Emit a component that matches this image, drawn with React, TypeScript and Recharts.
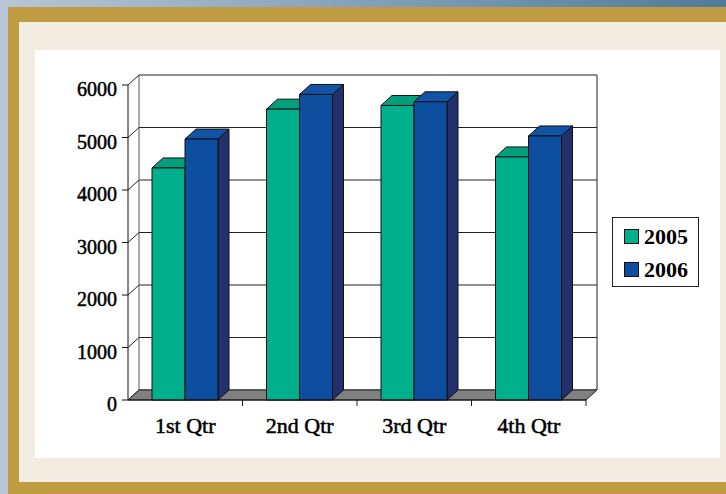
import { Bar, BarChart, CartesianGrid, Legend, ReferenceArea, XAxis, YAxis } from "recharts";

const quarters = ["1st Qtr", "2nd Qtr", "3rd Qtr", "4th Qtr"];
const sales2005 = [4420, 5540, 5610, 4630];
const sales2006 = [4970, 5820, 5680, 5030];
const yTicks = [0, 1000, 2000, 3000, 4000, 5000, 6000];

const data = quarters.map((q, i) => ({ name: q, y2005: sales2005[i], y2006: sales2006[i] }));

// depth of the fake 3d look
const DX = 11;
const DY = -10;
const FONT = '"Liberation Serif", "Times New Roman", serif';

function bar3d(front: string, top: string, side: string) {
	return (props: any) => {
		const { x, y, width: w, height: h } = props;
		if (!h) return null;
		return (
			<g stroke="#111" strokeWidth={1} strokeLinejoin="round">
				<polygon points={`${x + w},${y} ${x + w + DX},${y + DY} ${x + w + DX},${y + h + DY} ${x + w},${y + h}`} fill={side} />
				<polygon points={`${x},${y} ${x + DX},${y + DY} ${x + w + DX},${y + DY} ${x + w},${y}`} fill={top} />
				<rect x={x} y={y} width={w} height={h} fill={front} />
			</g>
		);
	};
}

// back wall edges, floor and the category ticks
const Walls = (props: any) => {
	const { x, y, width: w, height: h } = props;
	const b = y + h;
	const n = quarters.length;
	return (
		<g>
			<line x1={x + DX} y1={y + DY} x2={x + DX} y2={b + DY} stroke="#555" />
			<line x1={x + w + DX} y1={y + DY} x2={x + w + DX} y2={b + DY} stroke="#222" />
			<polygon points={`${x},${b} ${x + w},${b} ${x + w + DX},${b + DY} ${x + DX},${b + DY}`} fill="#808080" stroke="#222" />
			{Array.from({ length: n }, (_, i) => (
				<line key={i} x1={x + ((i + 1) * w) / n} y1={b} x2={x + ((i + 1) * w) / n} y2={b + 6} stroke="#222" />
			))}
		</g>
	);
};

const GridLine = (p: any) => (
	<g stroke="#222" strokeWidth={1}>
		<line x1={p.x1} y1={p.y1} x2={p.x1 + DX} y2={p.y1 + DY} />
		<line x1={p.x1 + DX} y1={p.y1 + DY} x2={p.x2 + DX} y2={p.y1 + DY} />
	</g>
);

const YTick = ({ x, y, payload }: any) => (
	<text x={x} y={y} dy={11} textAnchor="end" fontFamily={FONT} fontSize={20} fill="#000" stroke="#000" strokeWidth={0.5}>
		{payload.value}
	</text>
);

const XTick = ({ x, y, payload }: any) => (
	<text x={x} y={y} dy={31} textAnchor="middle" fontFamily={FONT} fontSize={22} fill="#000" stroke="#000" strokeWidth={0.5}>
		{payload.value}
	</text>
);

const LegendBox = (props: any) => (
	<div
		style={{
			width: 87,
			height: 70,
			boxSizing: "border-box",
			border: "1px solid #222",
			background: "#fff",
			padding: "11px 0 0 11px",
		}}
	>
		{(props.payload || []).map((e: any) => (
			<div key={e.value} style={{ display: "flex", alignItems: "flex-start", height: 15, marginBottom: 18 }}>
				<span
					style={{
						width: 15,
						height: 15,
						boxSizing: "border-box",
						border: "1px solid #111",
						background: e.color,
						marginRight: 5,
					}}
				/>
				<span style={{ font: `bold 22px ${FONT}`, lineHeight: "15px", color: "#000" }}>{e.value}</span>
			</div>
		))}
	</div>
);

export default function App() {
	return (
		<div
			style={{
				position: "absolute",
				left: 0,
				top: 0,
				width: 726,
				height: 494,
				overflow: "hidden",
				background: "linear-gradient(to right, #b8c6d6, #4f7b9b)",
			}}
		>
			<div style={{ position: "absolute", left: 8, top: 7, width: 718, height: 487, background: "#c09c42" }} />
			<div style={{ position: "absolute", left: 19, top: 22, width: 707, height: 460, background: "#f3ece0" }} />
			<div style={{ position: "absolute", left: 35, top: 50, width: 685, height: 408, background: "#fff" }} />
			<div style={{ position: "absolute", left: 0, top: 0 }}>
				<BarChart
					width={726}
					height={494}
					data={data}
					margin={{ top: 85, right: 140, bottom: 64, left: 68 }}
					barCategoryGap={24}
					barGap={0}
				>
					<CartesianGrid vertical={false} horizontal={GridLine} />
					<ReferenceArea y1={0} y2={6000} shape={Walls} fillOpacity={1} ifOverflow="visible" />
					<XAxis
						dataKey="name"
						height={30}
						tickLine={false}
						tickSize={0}
						axisLine={{ stroke: "#111" }}
						tick={XTick}
					/>
					<YAxis
						width={60}
						domain={[0, 6000]}
						ticks={yTicks}
						tickSize={6}
						tickMargin={5}
						tickLine={{ stroke: "#111" }}
						axisLine={{ stroke: "#111" }}
						tick={YTick}
					/>
					<Legend
						layout="vertical"
						align="center"
						verticalAlign="middle"
						wrapperStyle={{ left: 612, top: 217, width: 87, height: 70 }}
						content={LegendBox}
					/>
					<Bar dataKey="y2005" name="2005" fill="#00b08c" shape={bar3d("#00b08c", "#00a07c", "#008a6c")} isAnimationActive={false} />
					<Bar dataKey="y2006" name="2006" fill="#0d4e9f" shape={bar3d("#0d4e9f", "#1253a6", "#22306b")} isAnimationActive={false} />
				</BarChart>
			</div>
		</div>
	);
}
